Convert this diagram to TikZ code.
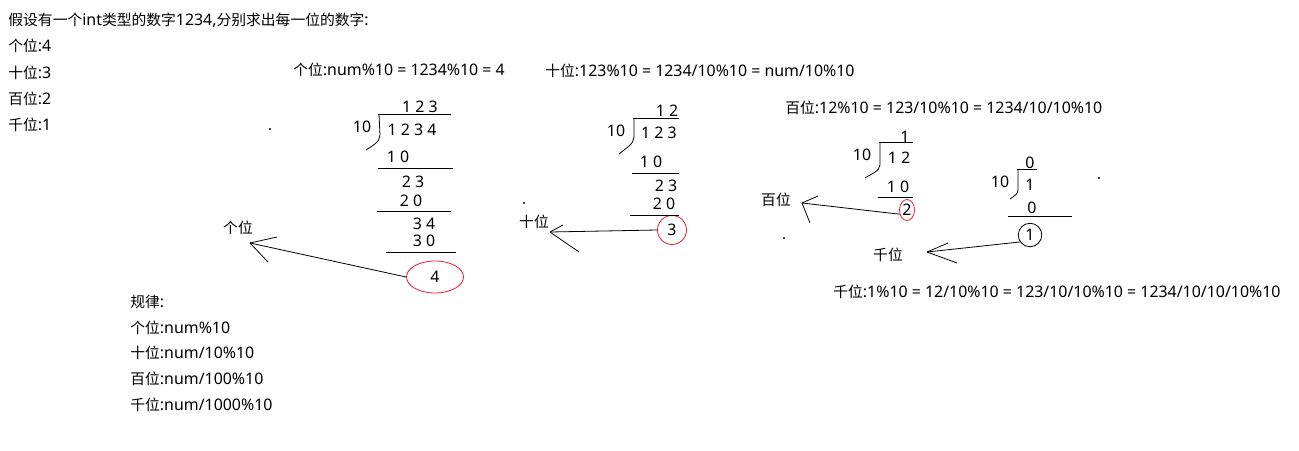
\documentclass[tikz,border=0pt]{standalone}
\usepackage{fontspec}
\setmainfont{Noto Sans}
\newfontfamily\cjk{Noto Sans CJK SC}[Scale=0.93]
\newcommand{\zh}[1]{{\cjk #1}}
\usetikzlibrary{shapes.geometric}
\definecolor{pred}{RGB}{237,28,36}

\begin{document}
\begin{tikzpicture}[x=1pt, y=-1pt, line width=0.8pt,
    every node/.style={inner sep=0pt, font=\fontsize{15.9}{18}\selectfont},
    txt/.style={anchor=west},
    ring/.style={draw=pred, ellipse},
    bar/.style={line width=0.9pt}]
 			%%%	Help Lines
% 			\draw [thin, help lines] (0,0) grid[step=50] (1299,450);
 			\useasboundingbox (0,0) rectangle (1299,450);
 			%%%	Testo
 			\node[txt] (titolo) at (8,20) {\zh{假设有一个}int\zh{类型的数字}1234,\zh{分别求出每一位的数字}:};
 			\node[txt] (ge) at (8,46) {\zh{个位}:4};
 			\node[txt] (shi) at (8,73) {\zh{十位}:3};
 			\node[txt] (bai) at (8,99) {\zh{百位}:2};
 			\node[txt] (qian) at (8,125) {\zh{千位}:1};
 			\node[txt] (fge) at (293,70) {\zh{个位}:num\%10 = 1234\%10 = 4};
 			\node[txt] (fshi) at (545,71) {\zh{十位}:123\%10 = 1234/10\%10 = num/10\%10};
 			\node[txt] (fbai) at (785,108) {\zh{百位}:12\%10 = 123/10\%10 = 1234/10/10\%10};
 			\node[txt] (fqian) at (833,292) {\zh{千位}:1\%10 = 12/10\%10 = 123/10/10\%10 = 1234/10/10/10\%10};
 			\node[txt] (regola) at (130,302) {\zh{规律}:};
 			\node[txt] (rge) at (130,328) {\zh{个位}:num\%10};
 			\node[txt] (rshi) at (130,353) {\zh{十位}:num/10\%10};
 			\node[txt] (rbai) at (130,379) {\zh{百位}:num/100\%10};
 			\node[txt] (rqian) at (130,405) {\zh{千位}:num/1000\%10};
 			%%%	Divisione 1234/10
 			\node (a0) at (420,107) {1 2 3};
 			\node (a1) at (362,127) {10};
 			\node (a2) at (412,130) {1 2 3 4};
 			\node (a3) at (398,157) {1 0};
 			\node (a4) at (413,182) {2 3};
 			\node (a5) at (411,201) {2 0};
 			\node (a6) at (424,224) {3 4};
 			\node (a7) at (424,241) {3 0};
 			\node[ring, minimum width=57pt, minimum height=32pt] (e4) at (435,277) {4};
 			\draw[bar] (378,114) -- (451,114);
 			\draw (379,114) -- (380,135) .. controls (380,142) and (372,146) .. (366,150);
 			\draw[bar] (378,168) -- (453,168);
 			\draw[bar] (377,211) -- (451,211);
 			\draw[bar] (386,252) -- (456,252);
 			\node (lge) at (238,228) {\zh{个位}};
 			\coordinate (t1) at (250,243);
 			\draw (e4.west) -- (t1);
 			\draw (t1) -- ++(27,-6);
 			\draw (t1) -- ++(18,19);
 			%%%	Divisione 123/10
 			\node (b0) at (667,111) {1 2};
 			\node (b1) at (616,131) {10};
 			\node (b2) at (659,133) {1 2 3};
 			\node (b3) at (651,162) {1 0};
 			\node (b4) at (666,186) {2 3};
 			\node (b5) at (664,204) {2 0};
 			\node[ring, circle, minimum size=29pt] (c3) at (672,230) {3};
 			\draw[bar] (633,118) -- (679,118);
 			\draw (634,118) -- (634,137) .. controls (634,144) and (626,148) .. (619,154);
 			\draw[bar] (632,173) -- (679,173);
 			\draw[bar] (630,215) -- (679,215);
 			\node (lshi) at (534,222) {\zh{十位}};
 			\coordinate (t2) at (550,232);
 			\draw (c3.west) -- (t2);
 			\draw (t2) -- ++(13,-7);
 			\draw (t2) -- ++(29,20);
 			%%%	Divisione 12/10
 			\node (d0) at (905,137) {1};
 			\node (d1) at (862,155) {10};
 			\node (d2) at (899,158) {1 2};
 			\node (d3) at (898,187) {1 0};
 			\node[ring, minimum width=15pt, minimum height=21pt] (e2) at (907,210) {2};
 			\draw[bar] (879,142) -- (913,142);
 			\draw (880,142) -- (880,165) .. controls (880,171) and (871,174) .. (865,178);
 			\draw[bar] (878,197) -- (913,197);
 			\node (lbai) at (776,200) {\zh{百位}};
 			\coordinate (t3) at (802,203);
 			\draw (e2.210) -- (t3);
 			\draw (t3) -- ++(16,-7);
 			\draw (t3) -- ++(8,20);
 			%%%	Divisione 1/10
 			\node (g0) at (1030,163) {0};
 			\node (g1) at (1000,182) {10};
 			\node (g2) at (1030,185) {1};
 			\node (g3) at (1032,208) {0};
 			\node[draw, circle, minimum size=23.5pt] (c1) at (1030,235) {1};
 			\draw[bar] (1017,169) -- (1037,169);
 			\draw (1018,169) -- (1018,190) .. controls (1018,194) and (1014,196) .. (1010,199);
 			\draw[bar] (1008,216) -- (1072,216);
 			\node (lqian) at (888,255) {\zh{千位}};
 			\coordinate (t4) at (927,252);
 			\draw (c1.215) -- (t4);
 			\draw (t4) -- ++(21,-9);
 			\draw (t4) -- ++(30,11);
 			%%%	Punti
 			\foreach \p in {(270,129),(524,203),(784,238),(1099,178)}
 			\fill \p circle (1.1);
 		\end{tikzpicture}
\end{document}
